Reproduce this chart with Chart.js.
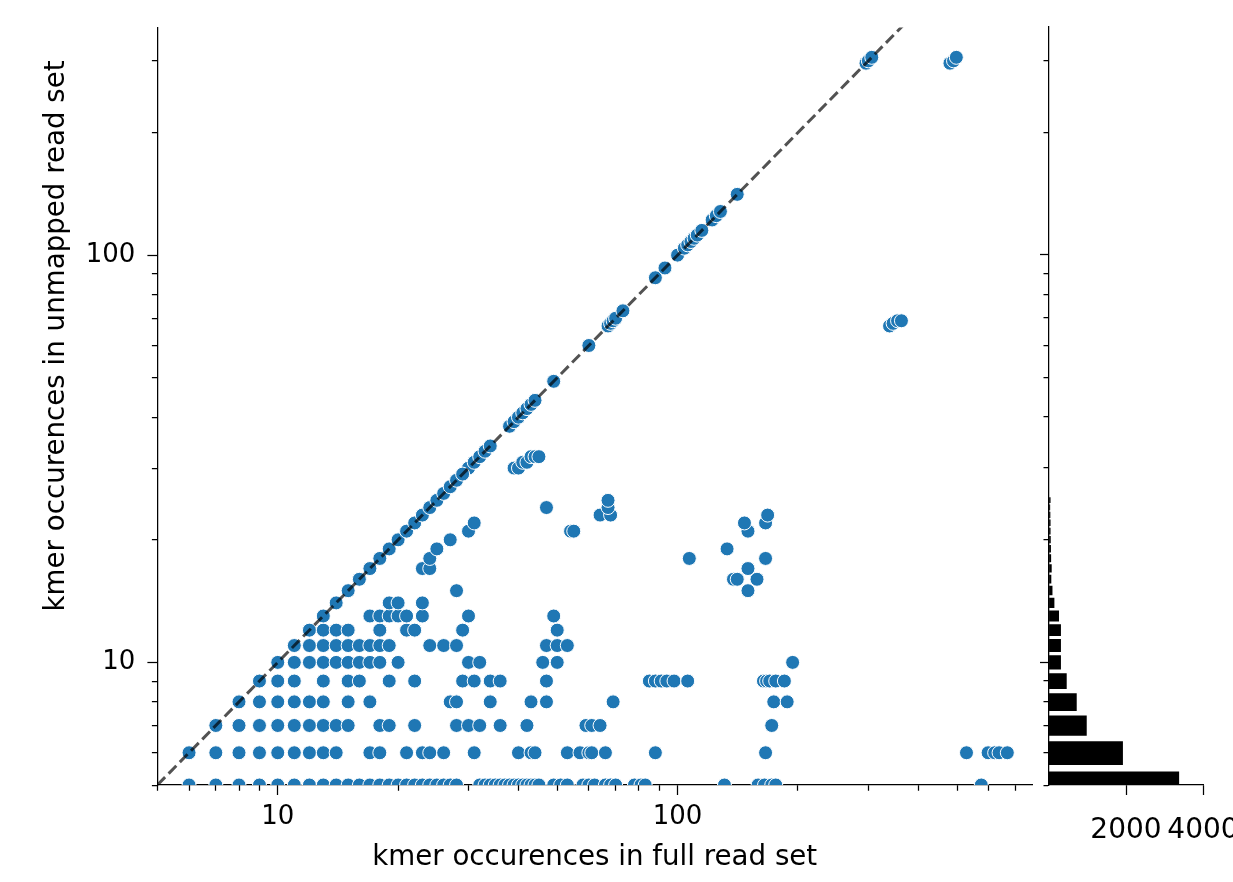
<!DOCTYPE html>
<html>
<head>
<meta charset="utf-8">
<title>kmer occurences</title>
<script src="https://cdn.jsdelivr.net/npm/chart.js@4.4.1/dist/chart.umd.min.js"></script>
<style>
  html, body { margin: 0; padding: 0; background: #fff; overflow: hidden; }
  #wrap { position: relative; width: 1233px; height: 882px; }
  #mainBox { position: absolute; left: 0; top: 0; width: 1040px; height: 882px; }
  #histBox { position: absolute; left: 1040px; top: 0; width: 240px; height: 882px; }
</style>
</head>
<body>
<div id="wrap">
  <div id="mainBox"><canvas id="mainChart"></canvas></div>
  <div id="histBox"><canvas id="histChart"></canvas></div>
</div>
<script>
// occurrences in the unmapped read set (one row of points per level)
const unmappedLevels = [5, 6, 7, 8, 9, 10, 11, 12, 13, 14, 15, 16, 17, 18, 19, 20, 21, 22, 23, 24, 25,
  30, 31, 32, 67, 68, 69, 296, 300, 306];

// occurrences in the full read set, for each unmapped level above
const fullCountsByLevel = [
  [6, 7, 8, 9, 10, 11, 12, 13, 14, 15, 16, 17, 18, 19, 20, 21, 22, 23, 24, 25, 26, 27, 28, 32, 33, 34, 35, 36,
    37, 38, 39, 40, 41, 42, 43, 44, 45, 49, 51, 53, 58, 60, 62, 66, 68, 70, 78, 81, 83, 131, 159, 165, 172, 176, 575],
  [6, 7, 8, 9, 10, 11, 12, 13, 14, 17, 18, 21, 23, 24, 26, 31, 40, 43, 44, 53, 57, 60, 61, 66, 88, 166,
    528, 598, 621, 637, 668],
  [7, 8, 9, 10, 11, 12, 13, 14, 15, 18, 19, 22, 28, 30, 32, 36, 42, 59, 61, 64, 172],
  [8, 9, 10, 11, 12, 13, 15, 17, 27, 28, 34, 43, 47, 69, 174, 188],
  [9, 10, 11, 13, 15, 16, 19, 22, 29, 31, 34, 36, 47, 85, 88, 91, 94, 98, 106, 164, 167, 170, 176, 185],
  [10, 11, 12, 13, 14, 15, 16, 17, 18, 20, 30, 32, 46, 50, 194],
  [11, 12, 13, 14, 15, 16, 17, 18, 19, 24, 26, 28, 47, 50, 53],
  [12, 13, 14, 15, 18, 21, 22, 29, 50],
  [13, 17, 18, 19, 20, 21, 23, 30, 49],
  [14, 19, 20, 23],
  [15, 28, 150],
  [16, 138, 141, 158],
  [17, 23, 24, 150],
  [18, 24, 107, 166],
  [19, 25, 133],
  [20, 27],
  [21, 30, 54, 55, 150],
  [22, 31, 147, 166],
  [23, 64, 68, 168],
  [24, 47, 67],
  [25, 67],
  [30, 39, 40],
  [31, 41, 42],
  [32, 43, 44, 45],
  [67, 339],
  [68, 346],
  [69, 355, 363],
  [296, 480],
  [300, 490],
  [306, 498]
];

// kmers seen equally often in both sets (on the y = x line)
const diagonalCounts = [26, 27, 28, 29, 33, 34, 38, 39, 40, 41, 42, 43, 44, 49, 60, 70, 73, 88, 93, 100,
  104, 106, 108, 110, 112, 115, 122, 125, 128, 141];

// reference line y = x
const identityLine = [5, 770];

// marginal histogram of unmapped occurrences
const histLevels = [5, 6, 7, 8, 9, 10, 11, 12, 13, 14, 15, 16, 17, 18, 19, 20, 21, 22, 23, 24, 25,
  26, 27, 28, 29, 30, 31, 32, 33, 34];
const histCounts = [3380, 1920, 980, 720, 460, 310, 310, 310, 260, 140, 90, 60, 70, 55, 50, 45, 40, 40, 35, 30, 40,
  15, 10, 10, 8, 12, 10, 10, 6, 6];
const binHalfWidth = 0.4;

const axisTickLabels = ["10", "100"];
const histTickLabels = ["2000", "4000"];

Chart.defaults.font.family = "'DejaVu Sans', sans-serif";
Chart.defaults.color = "#000";
Chart.defaults.animation = false;

const points = [];
unmappedLevels.forEach((u, i) => {
  fullCountsByLevel[i].forEach((f) => points.push({ x: f, y: u }));
});
diagonalCounts.forEach((c) => points.push({ x: c, y: c }));

const histShape = [];
histLevels.forEach((lv, i) => {
  let lo = lv - binHalfWidth;
  let hi = lv + binHalfWidth;
  histShape.push({ x: 0, y: lo }, { x: histCounts[i], y: lo }, { x: histCounts[i], y: hi }, { x: 0, y: hi });
});

function isDecade(v) {
  let l = Math.log10(v);
  return Math.abs(l - Math.round(l)) < 1e-9;
}

// keep only 1..9 x 10^n ticks, like matplotlib's log locator
function keepLogTicks(scale) {
  scale.ticks = scale.ticks.filter((t) => {
    let p = Math.pow(10, Math.floor(Math.log10(t.value) + 1e-9));
    let s = t.value / p;
    return Math.abs(s - Math.round(s)) < 1e-6;
  });
}

const axisLine = { color: "#000", width: 1.25 };

function logGrid(pos) {
  return {
    drawOnChartArea: false,
    tickLength: 10,
    tickColor: "#000",
    tickWidth: 1.25,
    tickBorderDash: (ctx) => {
      if (!ctx.tick || isDecade(ctx.tick.value)) return [];
      return pos === "left" ? [0, 4.5, 10, 100] : [5.5, 100];
    },
  };
}

new Chart(document.getElementById("mainChart"), {
  type: "scatter",
  data: {
    datasets: [
      {
        data: identityLine.map((v) => ({ x: v, y: v })),
        showLine: true,
        pointRadius: 0,
        borderColor: "rgba(0, 0, 0, 0.68)",
        borderWidth: 3,
        borderDash: [11, 5],
        order: 0,
        clip: 0,
      },
      {
        data: points,
        pointRadius: 7,
        pointBackgroundColor: "#1f77b4",
        pointBorderColor: "#ffffff",
        pointBorderWidth: 1,
        order: 1,
        clip: 0,
      },
    ],
  },
  options: {
    responsive: true,
    maintainAspectRatio: false,
    events: [],
    layout: { padding: { top: 27, right: 4, left: 0, bottom: 0 } },
    plugins: { legend: { display: false }, tooltip: { enabled: false } },
    scales: {
      x: {
        type: "logarithmic",
        position: "bottom",
        min: 5,
        max: 770,
        afterBuildTicks: keepLogTicks,
        afterFit: (s) => { s.height = 97; },
        border: axisLine,
        grid: logGrid("bottom"),
        ticks: {
          autoSkip: false,
          maxRotation: 0,
          padding: 7,
          font: { size: 26 },
          callback: (v) => (axisTickLabels.includes(String(v)) ? String(v) : ""),
        },
        title: {
          display: true,
          text: "kmer occurences in full read set",
          font: { size: 27.7 },
          padding: { top: 0, bottom: 8 },
        },
      },
      y: {
        type: "logarithmic",
        position: "left",
        min: 5,
        max: 362,
        afterBuildTicks: keepLogTicks,
        afterFit: (s) => { s.width = 157.4; },
        border: axisLine,
        grid: logGrid("left"),
        ticks: {
          autoSkip: false,
          padding: 12,
          font: { size: 26 },
          callback: (v) => (axisTickLabels.includes(String(v)) ? String(v) : ""),
        },
        title: {
          display: true,
          text: " ".repeat(16) + "kmer occurences in unmapped read set",
          font: { size: 27.7 },
          padding: { top: 40, bottom: 0 },
        },
      },
    },
  },
});

new Chart(document.getElementById("histChart"), {
  type: "scatter",
  data: {
    datasets: [
      {
        data: histShape,
        showLine: true,
        fill: "shape",
        backgroundColor: "#000",
        borderColor: "rgba(0, 0, 0, 0)",
        borderWidth: 0,
        pointRadius: 0,
      },
    ],
  },
  options: {
    responsive: true,
    maintainAspectRatio: false,
    events: [],
    layout: { padding: { top: 27, right: 77, left: 0, bottom: 0 } },
    plugins: { legend: { display: false }, tooltip: { enabled: false } },
    scales: {
      x: {
        type: "linear",
        position: "bottom",
        min: 0,
        max: 4000,
        afterFit: (s) => { s.height = 97; },
        border: axisLine,
        grid: { drawOnChartArea: false, tickLength: 10, tickColor: "#000", tickWidth: 1.25 },
        ticks: {
          stepSize: 2000,
          autoSkip: false,
          maxRotation: 0,
          padding: 19,
          font: { size: 28 },
          callback: (v) => (histTickLabels.includes(String(v)) ? String(v) : null),
        },
      },
      y: {
        type: "logarithmic",
        position: "left",
        min: 5,
        max: 362,
        afterBuildTicks: keepLogTicks,
        afterFit: (s) => { s.width = 9; },
        border: axisLine,
        grid: logGrid("left"),
        ticks: { display: false, autoSkip: false },
      },
    },
  },
});
</script>
</body>
</html>
